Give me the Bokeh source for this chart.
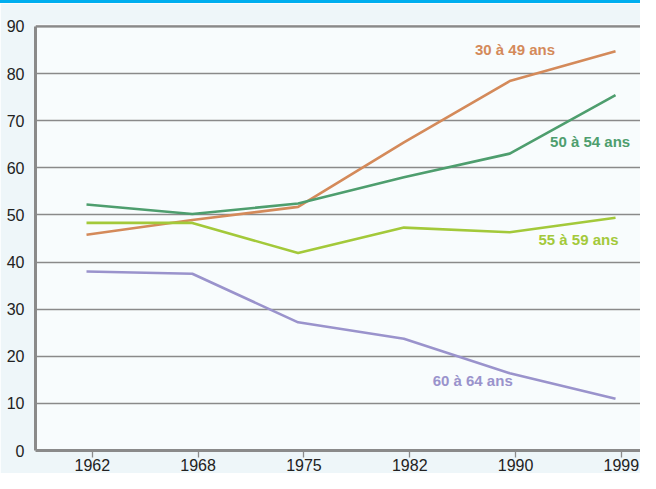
from bokeh.plotting import figure
from bokeh.models import Div, Span, FixedTicker, Label
from bokeh.layouts import column
from bokeh.embed import file_html
from bokeh.resources import INLINE

years = ["1962", "1968", "1975", "1982", "1990", "1999"]
a30_49 = [45.8, 48.9, 51.7, 65.4, 78.4, 84.7]
a50_54 = [52.2, 50.2, 52.4, 58.0, 63.0, 75.4]
a55_59 = [48.3, 48.3, 41.9, 47.3, 46.3, 49.4]
a60_64 = [38.0, 37.5, 27.2, 23.7, 16.4, 11.0]
y_ticks = [0, 10, 20, 30, 40, 50, 60, 70, 80, 90]

series = [
    ("30 à 49 ans", a30_49, "#D48A5A", 4.05, 85.2),
    ("50 à 54 ans", a50_54, "#4E9E6E", 4.76, 65.6),
    ("55 à 59 ans", a55_59, "#A3C93A", 4.65, 44.7),
    ("60 à 64 ans", a60_64, "#9A93CC", 3.65, 14.9),
]

FONT = "Liberation Sans"
GRAY = "#8A8A8A"
TICK_SHIFT = 0.055  # the original's ticks sit slightly right of the data points

xs = list(range(len(years)))
tick_pos = [round(i + TICK_SHIFT, 3) for i in xs]

p = figure(width=640, height=470, x_range=(-0.482, 5.236), y_range=(0, 90.4),
           output_backend="svg", toolbar_location=None,
           min_border_left=35, min_border_right=0, min_border_top=21, min_border_bottom=23)
p.background_fill_color = "#F8FCFD"
p.border_fill_color = "#EEF6F9"
p.outline_line_color = None

p.xgrid.grid_line_color = None
p.ygrid.ticker = FixedTicker(ticks=y_ticks)
p.ygrid.grid_line_color = GRAY
p.ygrid.grid_line_width = 1.3

p.yaxis.ticker = FixedTicker(ticks=y_ticks)
p.yaxis.bounds = (0, 90)
p.yaxis.major_tick_line_color = None
p.yaxis.minor_tick_line_color = None
p.yaxis.axis_line_color = GRAY
p.yaxis.axis_line_width = 3
p.yaxis.major_label_standoff = 5
p.yaxis.major_label_text_font = FONT
p.yaxis.major_label_text_font_size = "16px"
p.yaxis.major_label_text_color = "#222222"

p.xaxis.ticker = FixedTicker(ticks=tick_pos)
p.xaxis.major_label_overrides = {t: y for t, y in zip(tick_pos, years)}
p.xaxis.major_tick_out = 7
p.xaxis.major_tick_in = 0
p.xaxis.major_tick_line_color = GRAY
p.xaxis.major_tick_line_width = 1.3
p.xaxis.minor_tick_line_color = None
p.xaxis.axis_line_color = GRAY
p.xaxis.axis_line_width = 3
p.xaxis.major_label_standoff = 1
p.xaxis.major_label_text_font = FONT
p.xaxis.major_label_text_font_size = "16px"
p.xaxis.major_label_text_color = "#222222"

p.add_layout(Span(location=90, dimension="width", line_color=GRAY, line_width=2.2))

for name, vals, color, lx, ly in series:
    p.line(xs, vals, line_color=color, line_width=2.6)
    p.add_layout(Label(x=lx, y=ly, text=name, text_align="center", text_baseline="middle",
                       text_font=FONT, text_font_style="bold", text_font_size="15px",
                       text_color=color))

bar = Div(width=640, height=3, margin=0, styles={"background-color": "#00AEEF"})

layout = column(bar, p, spacing=0)
open("out.html", "w").write(file_html(layout, INLINE))
